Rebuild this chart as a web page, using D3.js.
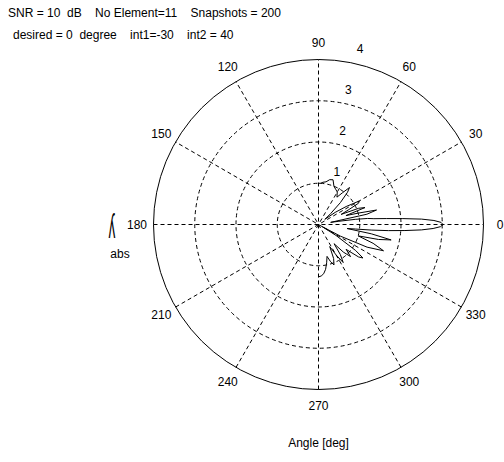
<!DOCTYPE html>
<html>
<head>
<meta charset="utf-8">
<script src="https://cdn.jsdelivr.net/npm/d3@7"></script>
<style>
  html, body { margin: 0; padding: 0; background: #fff; }
  text { font-family: "Liberation Sans", Arial, sans-serif; fill: #000; }
</style>
</head>
<body>
<svg id="chart" width="504" height="462"></svg>
<script>
// Array response magnitude, sampled by look angle (degrees)
const patternAngles = [
  -90, -87, -84, -81, -78, -75, -72, -69, -66, -63, -60, -57, -54, -51, -48, -45, -42, -39, -37, -35, -32, -30, -28, -25, -22, -19, -16, -14, -12, -10, -8, -7, -6, -5, -4, -3, -2, -1, 0,
  1, 2, 3, 4, 5, 6, 7, 8, 9, 10, 12, 14, 16, 18, 20, 22, 24, 26, 28, 30, 33, 36, 39, 42, 45, 48, 50, 53, 56, 60, 64, 68, 72, 76, 80, 84, 87, 90
];
const patternMagnitude = [
  1.27, 1.25, 1.2, 1.1, 0.95, 0.8, 0.95, 1.05, 0.9, 0.6, 0.85, 1.1, 0.9, 0.6, 0.9, 1.1, 0.9, 1.25, 1.35, 1.1, 0.5, 0.1, 0.6, 1.3, 1.7, 1.4, 1.0, 1.5, 1.8, 1.3, 0.7, 0.9, 1.3, 1.7, 2.1, 2.5, 2.78, 2.96, 3.02,
  2.97, 2.8, 2.5, 2.05, 1.65, 1.35, 1.2, 0.9, 0.5, 0.3, 1.2, 1.45, 1.0, 0.7, 1.2, 1.05, 0.6, 0.8, 1.1, 1.14, 0.8, 0.5, 0.2, 0.4, 0.75, 1.05, 1.17, 0.96, 0.8, 0.91, 0.95, 1.0, 1.14, 1.12, 1.05, 1.03, 1.0, 1.0
];
const ringValues = [1, 2, 3, 4];
const spokeAngles = [0, 30, 60, 90, 120, 150];
const angleLabels = ["0", "30", "60", "90", "120", "150", "180", "210", "240", "270", "300", "330"];
const titleLines = [
  "SNR = 10  dB    No Element=11    Snapshots = 200",
  "desired = 0  degree    int1=-30    int2 = 40"
];
const xLabel = "Angle [deg]";
const yLabelTop = "y";
const yLabelBottom = "abs";

const svg = d3.select("#chart");
const cx = 318.5, cy = 224.5, R = 165;
const rMax = 4;
const r = d3.scaleLinear().domain([0, rMax]).range([0, R]);
const toRad = d => d * Math.PI / 180;

const g = svg.append("g").attr("transform", `translate(${cx},${cy})`);

// white disc behind the grid
g.append("circle").attr("r", r(rMax)).attr("fill", "#fff");

// spokes: full diameters every 30 degrees
g.selectAll("line.spoke").data(spokeAngles).join("line")
  .attr("class", "spoke")
  .attr("x1", d => -r(rMax) * Math.cos(toRad(d)))
  .attr("y1", d => r(rMax) * Math.sin(toRad(d)))
  .attr("x2", d => r(rMax) * Math.cos(toRad(d)))
  .attr("y2", d => -r(rMax) * Math.sin(toRad(d)))
  .attr("stroke", "#000").attr("stroke-width", 1)
  .attr("stroke-dasharray", "4,3");

// range rings
g.selectAll("circle.ring").data(ringValues).join("circle")
  .attr("class", "ring")
  .attr("r", d => r(d))
  .attr("fill", "none")
  .attr("stroke", "#000")
  .attr("stroke-width", 1)
  .attr("stroke-dasharray", d => d === rMax ? null : "4,3");

// ring labels along the 82 degree direction
g.selectAll("text.rlab").data(ringValues).join("text")
  .attr("class", "rlab")
  .attr("x", d => r(d + 0.05) * Math.cos(toRad(82)) + 9 + (d === rMax ? 6 : 0))
  .attr("y", d => -r(d + 0.05) * Math.sin(toRad(82)) - 6)
  .attr("font-size", 12)
  .text(d => d);

// angle labels just outside the outer ring
g.selectAll("text.alab").data(angleLabels).join("text")
  .attr("class", "alab")
  .attr("x", d => 1.1 * r(rMax) * Math.cos(toRad(+d)))
  .attr("y", d => -1.1 * r(rMax) * Math.sin(toRad(+d)))
  .attr("text-anchor", "middle")
  .attr("dominant-baseline", "central")
  .attr("font-size", 12)
  .text(d => d);

// the beam pattern
const pts = patternAngles.map((a, i) => [toRad(90 - a), r(patternMagnitude[i])]);
const radial = d3.lineRadial().angle(d => d[0]).radius(d => d[1]);
g.append("path")
  .attr("d", radial(pts))
  .attr("fill", "none")
  .attr("stroke", "#000")
  .attr("stroke-width", 1);

// header lines
svg.selectAll("text.title").data(titleLines).join("text")
  .attr("class", "title")
  .attr("x", (d, i) => i === 0 ? 8 : 13)
  .attr("y", (d, i) => 17 + i * 22)
  .attr("font-size", 12)
  .attr("xml:space", "preserve")
  .style("white-space", "pre")
  .text(d => d);

// axis captions
svg.append("text")
  .attr("x", cx).attr("y", 447)
  .attr("text-anchor", "middle")
  .attr("font-size", 12)
  .text(xLabel);

// vertical caption glyph, turned over and stretched
svg.append("text")
  .attr("transform", "translate(112,232) scale(1.1,2.8) rotate(180)")
  .attr("text-anchor", "middle")
  .attr("dominant-baseline", "central")
  .attr("font-size", 12)
  .text(yLabelTop);

svg.append("text")
  .attr("x", 120).attr("y", 258)
  .attr("text-anchor", "middle")
  .attr("font-size", 12)
  .text(yLabelBottom);
</script>
</body>
</html>
